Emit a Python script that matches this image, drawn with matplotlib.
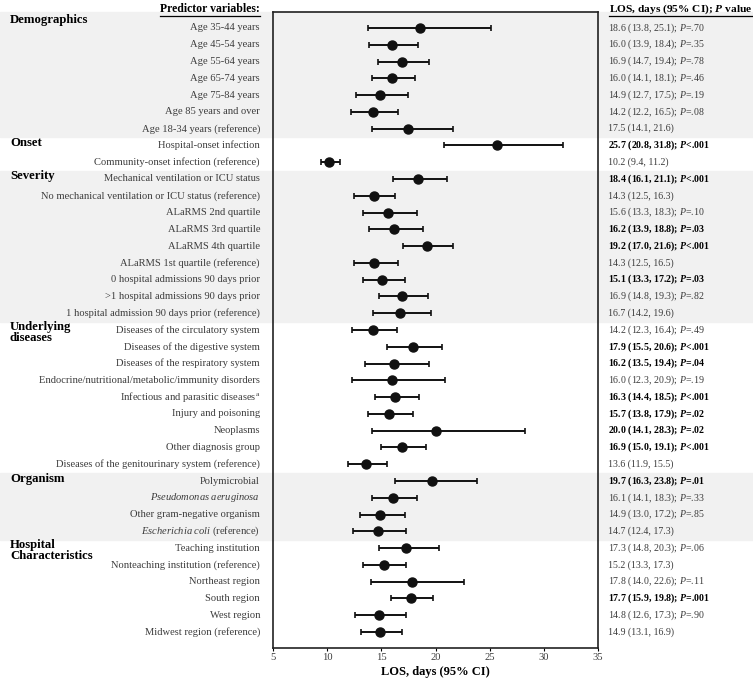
import matplotlib.pyplot as plt
from matplotlib.patches import Rectangle
from matplotlib.lines import Line2D
from matplotlib.transforms import blended_transform_factory

plt.rcParams['font.family'] = ['Liberation Serif', 'DejaVu Serif']
plt.rcParams['mathtext.fontset'] = 'custom'
plt.rcParams['mathtext.rm'] = 'Liberation Serif'
plt.rcParams['mathtext.it'] = 'Liberation Serif:italic'
plt.rcParams['mathtext.bf'] = 'Liberation Serif:bold'
plt.rcParams['mathtext.bfit'] = 'Liberation Serif:italic:bold'

# gruppi di variabili e numero di righe
gruppi = ["Demographics", "Onset", "Severity", "Underlying\ndiseases", "Organism", "Hospital\nCharacteristics"]
righe_gruppo = [7, 2, 9, 9, 4, 6]

etichette = [
    "Age 35-44 years", "Age 45-54 years", "Age 55-64 years", "Age 65-74 years",
    "Age 75-84 years", "Age 85 years and over", "Age 18-34 years (reference)",
    "Hospital-onset infection", "Community-onset infection (reference)",
    "Mechanical ventilation or ICU status", "No mechanical ventilation or ICU status (reference)",
    "ALaRMS 2nd quartile", "ALaRMS 3rd quartile", "ALaRMS 4th quartile",
    "ALaRMS 1st quartile (reference)", "0 hospital admissions 90 days prior",
    ">1 hospital admissions 90 days prior", "1 hospital admission 90 days prior (reference)",
    "Diseases of the circulatory system", "Diseases of the digestive system",
    "Diseases of the respiratory system", "Endocrine/nutritional/metabolic/immunity disorders",
    r"Infectious and parasitic diseases$^{\mathrm{a}}$", "Injury and poisoning", "Neoplasms",
    "Other diagnosis group", "Diseases of the genitourinary system (reference)",
    "Polymicrobial", r"$\mathit{Pseudomonas\ aeruginosa}$", "Other gram-negative organism",
    r"$\mathit{Escherichia\ coli}$ (reference)",
    "Teaching institution", "Nonteaching institution (reference)", "Northeast region",
    "South region", "West region", "Midwest region (reference)",
]

stima = [18.6, 16.0, 16.9, 16.0, 14.9, 14.2, 17.5, 25.7, 10.2, 18.4, 14.3, 15.6, 16.2, 19.2,
         14.3, 15.1, 16.9, 16.7, 14.2, 17.9, 16.2, 16.0, 16.3, 15.7, 20.0, 16.9, 13.6, 19.7,
         16.1, 14.9, 14.7, 17.3, 15.2, 17.8, 17.7, 14.8, 14.9]
ci_basso = [13.8, 13.9, 14.7, 14.1, 12.7, 12.2, 14.1, 20.8, 9.4, 16.1, 12.5, 13.3, 13.9, 17.0,
            12.5, 13.3, 14.8, 14.2, 12.3, 15.5, 13.5, 12.3, 14.4, 13.8, 14.1, 15.0, 11.9, 16.3,
            14.1, 13.0, 12.4, 14.8, 13.3, 14.0, 15.9, 12.6, 13.1]
ci_alto = [25.1, 18.4, 19.4, 18.1, 17.5, 16.5, 21.6, 31.8, 11.2, 21.1, 16.3, 18.3, 18.8, 21.6,
           16.5, 17.2, 19.3, 19.6, 16.4, 20.6, 19.4, 20.9, 18.5, 17.9, 28.3, 19.1, 15.5, 23.8,
           18.3, 17.2, 17.3, 20.3, 17.3, 22.6, 19.8, 17.3, 16.9]
p_valori = [".70", ".35", ".78", ".46", ".19", ".08", None, "<.001", None, "<.001", None, ".10",
            ".03", "<.001", None, ".03", ".82", None, ".49", "<.001", ".04", ".19", "<.001", ".02",
            ".02", "<.001", None, ".01", ".33", ".85", None, ".06", None, ".11", ".001", ".90", None]
significativo = [False, False, False, False, False, False, False, True, False, True, False, False,
                 True, True, False, True, False, False, False, True, True, False, True, True,
                 True, True, False, True, False, False, False, False, False, False, True, False, False]

n = len(etichette)
righe = list(range(n))
grigio_testo = "#3c3c3c"

fig = plt.figure(figsize=(7.53, 6.82), dpi=100)
ax = fig.add_axes([273 / 753, 1 - 648 / 682, 325 / 753, 636 / 682])
ax.set_facecolor("none")
ax.set_ylim(n - 1 + 0.95, -0.95)
ax.set_xlim(5, 35)

# fasce grigie dei gruppi
trasf = blended_transform_factory(fig.transFigure, ax.transData)
inizio = 0
for i, (g, k) in enumerate(zip(gruppi, righe_gruppo)):
    y0 = inizio - 0.5 if inizio > 0 else -0.95
    y1 = inizio + k - 0.5
    if i % 2 == 0:
        fig.patches.append(Rectangle((0, y0), 1, y1 - y0, transform=trasf, color="#f1f1f1",
                                     zorder=-10))
    if "\n" in g:
        fig.text(10 / 753, inizio - 0.55, g, transform=trasf, fontsize=9.2, fontweight="bold",
                 va="top", ha="left", linespacing=0.95)
    else:
        fig.text(10 / 753, inizio - (0.5 if i == 0 else 0.15), g, transform=trasf, fontsize=9.2,
                 fontweight="bold", va="center", ha="left")
    inizio += k

# punti e intervalli di confidenza
err = [[s - b for s, b in zip(stima, ci_basso)], [a - s for s, a in zip(stima, ci_alto)]]
ax.errorbar(stima, righe, xerr=err, fmt="o", color="#111111", markersize=6.5, elinewidth=1.4,
            capsize=2.5, capthick=1.2, zorder=3)

# etichette a sinistra e valori a destra
for r in righe:
    fig.text(260 / 753, r, etichette[r], transform=trasf, fontsize=7.6, ha="right", va="center",
             color=grigio_testo)
    testo = f"{stima[r]:.1f} ({ci_basso[r]:.1f}, {ci_alto[r]:.1f})"
    if p_valori[r] is not None:
        pv = p_valori[r]
        segno = "" if pv.startswith("<") else "="
        if significativo[r]:
            testo += "; $\\mathbfit{P}$" + segno + pv
        else:
            testo += "; $\\mathit{P}$" + segno + pv
    fig.text(608 / 753, r, testo, transform=trasf, fontsize=7.1, ha="left", va="center",
             color="black" if significativo[r] else grigio_testo,
             fontweight="bold" if significativo[r] else "normal")

for lato in ax.spines.values():
    lato.set_linewidth(1.2)
    lato.set_color("#222222")
ax.set_yticks([])
ax.set_xticks([5, 10, 15, 20, 25, 30, 35])
ax.tick_params(axis="x", labelsize=7.6, labelcolor=grigio_testo, length=2, pad=1.5)
ax.set_xlabel("LOS, days (95% CI)", fontsize=9, fontweight="bold", labelpad=3)

# intestazioni sottolineate
h1 = fig.text(260 / 753, 1 - 9 / 682, "Predictor variables:", fontsize=8.5, fontweight="bold",
              ha="right", va="center")
h2 = fig.text(609 / 753, 1 - 9 / 682, "LOS, days (95% CI); $\\mathbfit{P}$ value", fontsize=8.2,
              fontweight="bold", ha="left", va="center")
fig.canvas.draw()
rend = fig.canvas.get_renderer()
for h in (h1, h2):
    bb = h.get_window_extent(rend).transformed(fig.transFigure.inverted())
    fig.add_artist(Line2D([bb.x0, bb.x1], [bb.y0 - 0.001, bb.y0 - 0.001], color="black",
                          linewidth=0.9, transform=fig.transFigure))

fig.savefig("out.png", dpi=100)
